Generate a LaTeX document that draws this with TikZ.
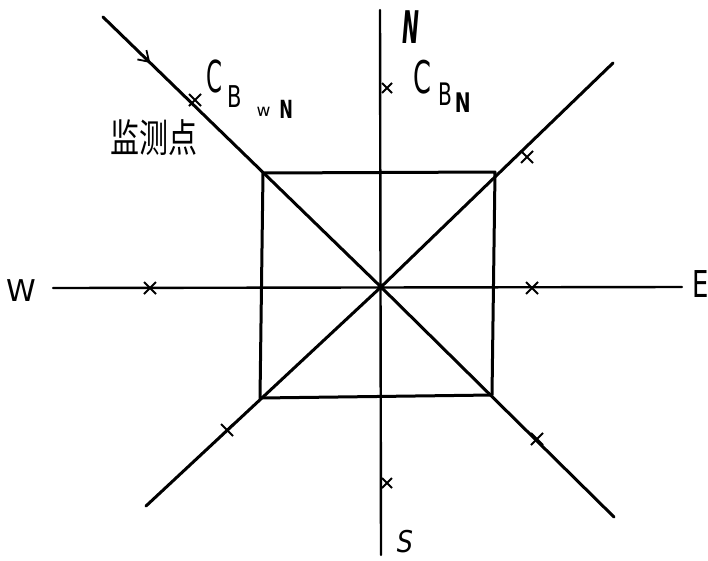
\documentclass[tikz,border=0pt]{standalone}
\usepackage{graphicx}
\usepackage{fontspec}
\setmainfont{DejaVu Sans}
\newfontfamily\cjk{Noto Sans CJK SC}
\usetikzlibrary{shapes.misc,arrows.meta,decorations.markings}
\begin{document}
\begin{tikzpicture}[x=1pt,y=-1pt,
  ln/.style={line width=3pt,line cap=round,line join=round},
  axln/.style={line width=2.4pt,line cap=round},
  xm/.style={cross out,draw,line width=2pt,minimum size=10pt,inner sep=0pt},
  lbl/.style={inner sep=0pt}]
\useasboundingbox (0,0) rectangle (708,560);
% centre and square corners
\coordinate (o) at (381,287);
\coordinate (tl) at (263,173);
\coordinate (tr) at (495,172);
\coordinate (br) at (492,395);
\coordinate (bl) at (260,398);
% axis ends
\coordinate (nEnd) at (380,10);
\coordinate (sEnd) at (381,555);
\coordinate (wEnd) at (53,288);
\coordinate (eEnd) at (682,287);
% diagonal ends
\coordinate (nwEnd) at (103,17);
\coordinate (neEnd) at (613,63);
\coordinate (swEnd) at (146,506);
\coordinate (seEnd) at (614,517);
% axes
\draw[axln] (nEnd) -- (sEnd);
\draw[axln] (wEnd) -- (eEnd);
% square
\draw[ln] (tl) -- (tr) -- (br) -- (bl) -- cycle;
% diagonals
\draw[ln,decoration={markings,mark=at position 0.17 with {\arrow{Straight Barb[length=10pt,width=13pt,line width=1.8pt]}}},postaction={decorate}] (nwEnd) -- (o);
\draw[ln] (o) -- (neEnd);
\draw[ln] (o) -- (swEnd);
\draw[ln] (o) -- (seEnd);
\fill (o) circle (3.5pt);
% monitoring points
\node[xm] (m1) at (195,100) {};
\node[xm,minimum size=8pt] (m2) at (387,88) {};
\node[xm] (m3) at (527,157) {};
\node[xm] (m4) at (150,288) {};
\node[xm] (m5) at (532,288) {};
\node[xm] (m6) at (227,430) {};
\node[xm] (m7) at (537,439) {};
\node[xm,minimum size=8pt] (m8) at (387,483) {};
% labels
\node[lbl] (lN) at (411,27) {\fontsize{45}{45}\selectfont\scalebox{0.45}[1]{\bfseries\itshape N}};
\node[lbl] (lS) at (405,542) {\fontsize{30}{30}\selectfont\scalebox{0.85}[1]{\itshape S}};
\node[lbl] (lW) at (21,291) {\fontsize{30}{30}\selectfont W};
\node[lbl] (lE) at (701,284) {\fontsize{37}{37}\selectfont\scalebox{0.7}[1]{E}};
\node[lbl,anchor=base west] (lCN) at (413,93) {\fontsize{45}{45}\selectfont\scalebox{0.57}[1]{C}\hspace{7pt}\raisebox{-12pt}{\fontsize{31}{31}\selectfont\scalebox{0.65}[1]{B}}\hspace{3pt}\raisebox{-19pt}{\fontsize{27}{27}\selectfont\scalebox{0.7}[1]{\bfseries N}}};
\node[lbl,anchor=base west] (lCWN) at (206,92) {\fontsize{44}{44}\selectfont\scalebox{0.52}[1]{C}\hspace{5pt}\raisebox{-15pt}{\fontsize{30}{30}\selectfont\scalebox{0.7}[1]{B}}\hspace{15pt}\raisebox{-24pt}{\fontsize{17}{17}\selectfont w}\hspace{9pt}\raisebox{-26pt}{\fontsize{25}{25}\selectfont\scalebox{0.65}[1]{\bfseries N}}};
\node[lbl] (lm) at (154,138) {\cjk\fontsize{29}{29}\selectfont\scalebox{1}[1.35]{监测点}};
\end{tikzpicture}
\end{document}
